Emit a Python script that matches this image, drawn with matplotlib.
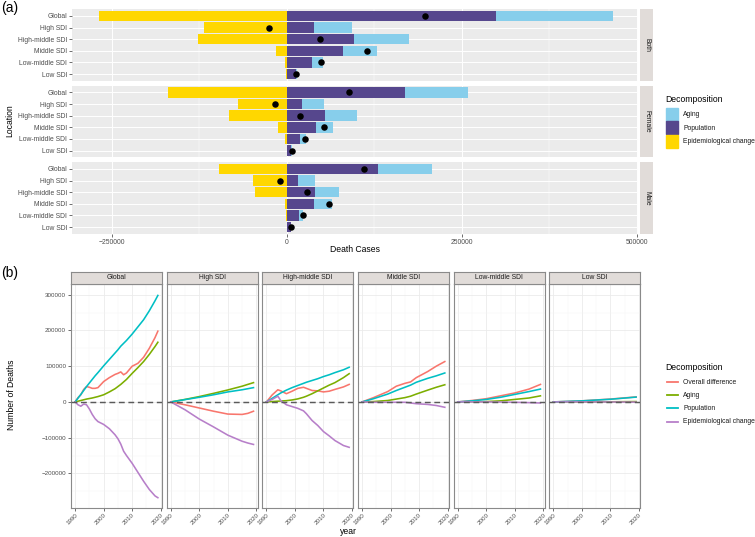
import matplotlib.pyplot as plt
from matplotlib.patches import Rectangle
from matplotlib.lines import Line2D
import numpy as np

plt.rcParams["font.family"] = ["Liberation Sans", "DejaVu Sans"]

# ---- panel (a): decomposition of death cases, 1990 -> 2019 ----
locations = ["Global", "High SDI", "High-middle SDI", "Middle SDI", "Low-middle SDI", "Low SDI"]
sexes = ["Both", "Female", "Male"]

population_both = [299000, 39000, 96000, 81000, 36000, 13000]
aging_both = [167000, 54000, 79000, 48000, 16000, 1000]
epi_both = [-268000, -119000, -127000, -15000, -3000, -1000]

population_female = [169000, 22000, 55000, 42000, 19000, 6400]
aging_female = [90000, 31000, 46000, 24000, 8500, 800]
epi_female = [-170000, -70000, -82000, -13000, -2000, -300]

population_male = [130000, 16000, 41000, 39000, 18000, 5400]
aging_male = [77000, 24000, 33000, 25000, 5500, 500]
epi_male = [-97000, -49000, -45000, -3000, -1000, -200]

# ---- panel (b): cumulative decomposition over time ----
regions = ["Global", "High SDI", "High-middle SDI", "Middle SDI", "Low-middle SDI", "Low SDI"]

years_global = [1990, 1991, 1992, 1993, 1994, 1995, 1996, 1997, 1998, 2000, 2002,
                2004, 2005, 2006, 2007, 2008, 2010, 2012, 2014, 2016, 2018, 2019]
overall_global = [0, 12000, 20000, 35000, 43000, 41000, 38000, 38000, 40000, 57000, 68000,
                  77000, 80000, 84000, 76000, 81000, 100000, 108000, 125000, 150000, 180000, 198000]
aging_global = [0, 2000, 4000, 6000, 8000, 9500, 11000, 13000, 15000, 20000, 28000,
                37000, 43000, 49000, 56000, 63000, 80000, 96000, 113000, 133000, 155000, 167000]
population_global = [0, 10500, 21000, 32000, 43000, 53000, 63000, 73000, 82000, 101000, 119000,
                     137000, 146000, 156000, 164000, 172000, 190000, 210000, 230000, 255000, 283000, 298000]
epi_global = [0, -8000, -12000, -6000, -8000, -20000, -35000, -47000, -55000, -63000, -75000,
              -92000, -103000, -118000, -138000, -150000, -172000, -197000, -222000, -245000, -263000, -268000]

years_high = [1990, 1995, 2000, 2005, 2010, 2015, 2017, 2019]
overall_high = [0, -8000, -17000, -26000, -34000, -35000, -32000, -26000]
aging_high = [0, 7000, 15000, 24000, 33500, 44000, 49000, 54000]
population_high = [0, 6500, 13000, 20000, 28000, 34000, 37000, 40000]
epi_high = [0, -22000, -48000, -70000, -93000, -110000, -115000, -119000]

years_highmid = [1990, 1992, 1994, 1995, 1997, 1999, 2001, 2003, 2004, 2006, 2008,
                 2010, 2012, 2014, 2017, 2019]
overall_highmid = [0, 19500, 34000, 31000, 23000, 30000, 38000, 41000, 38000, 32000, 31000,
                   28000, 30000, 35000, 42000, 49000]
aging_highmid = [0, 1000, 2000, 2500, 3500, 5500, 8500, 13000, 16000, 23000, 31000,
                 39000, 47000, 54000, 68000, 79000]
population_highmid = [0, 10000, 20000, 25000, 33000, 40000, 46000, 52000, 55000, 60000, 65000,
                      71000, 76000, 82000, 90000, 97000]
epi_highmid = [0, 7000, 16000, 4000, -8000, -13000, -18000, -25000, -33000, -52000, -66000,
               -83000, -95000, -108000, -122000, -127000]

years_mid = [1990, 1994, 1999, 2002, 2005, 2007, 2009, 2013, 2016, 2019]
overall_mid = [0, 12000, 29000, 44000, 52000, 56000, 68000, 85000, 100000, 113000]
aging_mid = [0, 1000, 4000, 8000, 12000, 16000, 22000, 33000, 41000, 48000]
population_mid = [0, 9000, 22000, 32000, 41000, 47000, 55000, 66000, 73000, 81000]
epi_mid = [0, -1000, -1000, -1000, -1000, -3000, -5000, -7000, -10000, -15000]

years_lowmid = [1990, 1995, 2000, 2005, 2010, 2015, 2019]
overall_lowmid = [0, 4000, 9000, 17000, 25000, 36000, 49000]
aging_lowmid = [0, 500, 1000, 3000, 7000, 11000, 17000]
population_lowmid = [0, 3000, 7000, 13000, 21000, 29000, 36000]
epi_lowmid = [0, 0, 0, -500, -1000, -2000, -3000]

years_low = [1990, 2000, 2010, 2019]
overall_low = [0, 3000, 8000, 14000]
aging_low = [0, 100, 400, 1000]
population_low = [0, 3000, 7500, 13500]
epi_low = [0, 0, -200, -500]

W, H = 755, 537
fig = plt.figure(figsize=(W / 100, H / 100), dpi=100)


def fx(px):
    return px / W


def fy(px):
    return 1 - px / H


c_aging = "#87CEEB"
c_pop = "#56478D"
c_epi = "#FFD700"
tick_col = "#4D4D4D"
strip_col = "#E1DCD9"
fs = 4.9

bar_data = [
    (population_both, aging_both, epi_both),
    (population_female, aging_female, epi_female),
    (population_male, aging_male, epi_male),
]
row_tops = [9, 85.5, 162]
row_h = 72
y = np.arange(len(locations))

for i, (sex, (pop, agi, epi)) in enumerate(zip(sexes, bar_data)):
    top = row_tops[i]
    ax = fig.add_axes([fx(72), fy(top + row_h), fx(566), row_h / H])
    ax.set_facecolor("#EBEBEB")
    ax.barh(y, pop, height=0.9, color=c_pop, zorder=2)
    ax.barh(y, agi, left=pop, height=0.9, color=c_aging, zorder=2)
    ax.barh(y, epi, height=0.9, color=c_epi, zorder=2)
    total = np.array(pop) + np.array(agi) + np.array(epi)
    ax.scatter(total, y, s=22, color="black", zorder=3, linewidths=0)
    ax.set_xlim(-307000, 502000)
    ax.set_ylim(len(locations) - 0.4, -0.6)
    ax.set_xticks([-250000, 0, 250000, 500000])
    ax.set_xticks([-125000, 125000, 375000], minor=True)
    ax.set_yticks(y)
    ax.set_yticklabels(locations)
    ax.grid(which="major", color="white", lw=0.7, zorder=0)
    ax.grid(which="minor", axis="x", color="white", lw=0.35, zorder=0)
    ax.set_axisbelow(True)
    for s in ax.spines.values():
        s.set_visible(False)
    ax.tick_params(which="major", labelsize=fs, colors="#333333", labelcolor=tick_col,
                   length=2, width=0.5, pad=1.5)
    ax.tick_params(which="minor", length=0)
    if i < 2:
        ax.tick_params(axis="x", which="major", length=0, labelbottom=False)

    sax = fig.add_axes([fx(640), fy(top + row_h), fx(13), row_h / H])
    sax.set_facecolor(strip_col)
    sax.set_xticks([])
    sax.set_yticks([])
    for s in sax.spines.values():
        s.set_visible(False)
    sax.text(0.5, 0.5, sex, rotation=-90, ha="center", va="center",
             fontsize=fs, color="#1A1A1A", transform=sax.transAxes)

fig.text(fx(355), fy(249), "Death Cases", ha="center", va="center", fontsize=6.2)
fig.text(fx(10), fy(121), "Location", ha="center", va="center", rotation=90, fontsize=6.2)
fig.text(fx(1), fy(8), "(a)", ha="left", va="center", fontsize=10)

# legend (a), ggplot style keys
fig.text(fx(665.5), fy(99), "Decomposition", ha="left", va="center", fontsize=6.2)
for k, (lab, col) in enumerate(zip(["Aging", "Population", "Epidemiological change"],
                                   [c_aging, c_pop, c_epi])):
    ytop = 108 + k * 13.5
    fig.add_artist(Rectangle((fx(666), fy(ytop + 13)), fx(12), 13 / H, color=col,
                             transform=fig.transFigure))
    fig.text(fx(683), fy(ytop + 6.5), lab, ha="left", va="center", fontsize=fs, color="#1A1A1A")

# ---- panel (b) ----
line_data = [
    (years_global, overall_global, aging_global, population_global, epi_global),
    (years_high, overall_high, aging_high, population_high, epi_high),
    (years_highmid, overall_highmid, aging_highmid, population_highmid, epi_highmid),
    (years_mid, overall_mid, aging_mid, population_mid, epi_mid),
    (years_lowmid, overall_lowmid, aging_lowmid, population_lowmid, epi_lowmid),
    (years_low, overall_low, aging_low, population_low, epi_low),
]
series_names = ["Overall difference", "Aging", "Population", "Epidemiological change"]
series_cols = ["#F8766D", "#7CAE00", "#00BFC4", "#B77FC9"]

p_top, p_bot = 284, 507.7
for i, (region, vals) in enumerate(zip(regions, line_data)):
    left = 71 + i * 95.65
    ax = fig.add_axes([fx(left), fy(p_bot), fx(91), (p_bot - p_top) / H])
    yrs = vals[0]
    for ser, col in zip(vals[1:], series_cols):
        ax.plot(yrs, ser, color=col, lw=1.15, zorder=3)
    ax.axhline(0, color="#5A5A5A", lw=1.05, ls=(0, (4, 2.5)), zorder=4)
    ax.set_xlim(1988.55, 2020.45)
    ax.set_ylim(-296000, 330000)
    ax.set_xticks([1990, 2000, 2010, 2020])
    ax.set_xticks([1995, 2005, 2015], minor=True)
    ax.set_yticks([-200000, -100000, 0, 100000, 200000, 300000])
    ax.set_yticks([-250000, -150000, -50000, 50000, 150000, 250000], minor=True)
    ax.grid(which="major", color="#EBEBEB", lw=0.6, zorder=0)
    ax.grid(which="minor", color="#F4F4F4", lw=0.35, zorder=0)
    for s in ax.spines.values():
        s.set_color("#8A8A8A")
        s.set_linewidth(0.8)
    ax.tick_params(which="major", labelsize=fs - 0.4, colors="#333333", labelcolor=tick_col,
                   length=2, width=0.5, pad=1.5)
    ax.tick_params(which="minor", length=0)
    for lab in ax.get_xticklabels():
        lab.set_rotation(45)
        lab.set_ha("right")
        lab.set_rotation_mode("anchor")
    if i > 0:
        ax.tick_params(axis="y", which="major", length=0, labelleft=False)

    sax = fig.add_axes([fx(left), fy(p_top), fx(91), (p_top - 271.7) / H])
    sax.set_facecolor(strip_col)
    sax.set_xticks([])
    sax.set_yticks([])
    for s in sax.spines.values():
        s.set_color("#8A8A8A")
        s.set_linewidth(0.8)
    sax.text(0.5, 0.5, region, ha="center", va="center", fontsize=fs,
             color="#1A1A1A", transform=sax.transAxes)

fig.text(fx(12), fy(395), "Number of Deaths", ha="center", va="center", rotation=90, fontsize=6.2)
fig.text(fx(348), fy(531), "year", ha="center", va="center", fontsize=6.2)
fig.text(fx(1), fy(273), "(b)", ha="left", va="center", fontsize=10)

# legend (b)
fig.text(fx(665.5), fy(368), "Decomposition", ha="left", va="center", fontsize=6.2)
for k, (lab, col) in enumerate(zip(series_names, series_cols)):
    yc = 382 + k * 13.2
    fig.add_artist(Line2D([fx(667), fx(677.5)], [fy(yc), fy(yc)], color=col, lw=1.3,
                          transform=fig.transFigure))
    fig.text(fx(683), fy(yc), lab, ha="left", va="center", fontsize=fs, color="#1A1A1A")

fig.savefig("out.png", dpi=100)
